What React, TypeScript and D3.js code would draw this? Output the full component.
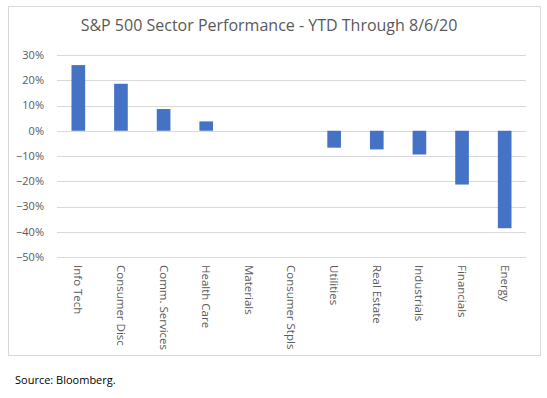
import React from "react";
import * as d3 from "d3";

const sectors = [
  "Info Tech",
  "Consumer Disc",
  "Comm. Services",
  "Health Care",
  "Materials",
  "Consumer Stpls",
  "Utilities",
  "Real Estate",
  "Industrials",
  "Financials",
  "Energy",
];
const ytdReturns = [26.0, 18.6, 8.6, 3.7, 0, 0, -6.7, -7.4, -9.4, -21.3, -38.6];
const yTicks = [30, 20, 10, 0, -10, -20, -30, -40, -50];

const W = 547;
const H = 398;
const plot = { left: 57, right: 526, top: 55, bottom: 257 };
const font = "'Open Sans', 'Noto Sans', sans-serif";
const textColor = "#595959";

export default function App() {
  const x = d3.scaleBand<string>().domain(sectors).range([plot.left, plot.right]).paddingInner(0.68).paddingOuter(0.34);
  const y = d3.scaleLinear().domain([-50, 30]).range([plot.bottom, plot.top]);

  return (
    <svg
      width={W}
      height={H}
      style={{ position: "absolute", left: 0, top: 0, background: "#fff" }}
    >
      <rect x={8.5} y={6.5} width={532} height={349} fill="#fff" stroke="#d9d9d9" />
      <text
        x={269}
        y={31}
        textAnchor="middle"
        fontFamily={font}
        fontSize={16}
        fill={textColor}
      >
        S&amp;P 500 Sector Performance - YTD Through 8/6/20
      </text>

      {yTicks.map((t) => (
        <g key={t}>
          <line
            x1={plot.left}
            x2={plot.right}
            y1={Math.round(y(t)) + 0.5}
            y2={Math.round(y(t)) + 0.5}
            stroke="#d9d9d9"
          />
          <text
            x={44}
            y={y(t)}
            dy="0.35em"
            textAnchor="end"
            fontFamily={font}
            fontSize={11}
            fill={textColor}
          >
            {d3.format("d")(t)}%
          </text>
        </g>
      ))}

      {sectors.map((s, i) => {
        const v = ytdReturns[i];
        const y0 = y(Math.max(0, v));
        const y1 = y(Math.min(0, v));
        return (
          <rect
            key={s}
            x={x(s)}
            y={y0}
            width={x.bandwidth()}
            height={Math.max(0, y1 - y0)}
            fill="#4472C4"
          />
        );
      })}

      {sectors.map((s) => {
        const cx = (x(s) ?? 0) + x.bandwidth() / 2;
        return (
          <text
            key={s}
            transform={`translate(${cx},265) rotate(90)`}
            dy="0.35em"
            fontFamily={font}
            fontSize={11.5}
            fill={textColor}
          >
            {s}
          </text>
        );
      })}

      <text x={15} y={384} fontFamily={font} fontSize={11} fill="#000">
        Source: Bloomberg.
      </text>
    </svg>
  );
}
